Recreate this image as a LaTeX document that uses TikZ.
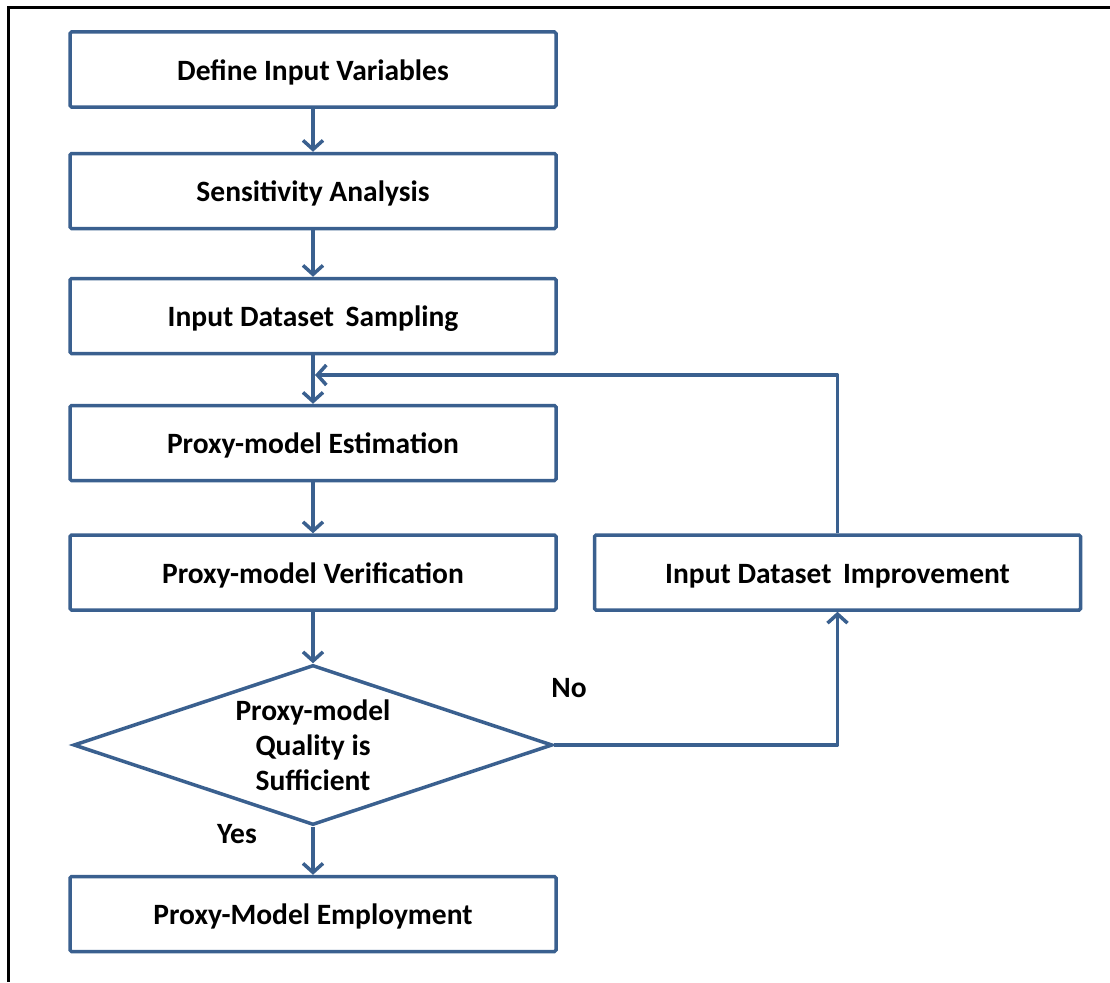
\documentclass[tikz,border=0pt]{standalone}
\usepackage{fontspec}
\setmainfont{Carlito}
\usetikzlibrary{shapes.geometric,arrows.meta}
\definecolor{flowblue}{RGB}{58,96,143}
\tikzset{
  stepbox/.style={draw=flowblue, line width=3.5pt, rounded corners=1.5pt,
    minimum width=486pt, minimum height=75pt, inner sep=0pt,
    text height=27pt, text depth=6pt,
    font=\fontsize{29.5}{35}\selectfont\bfseries, align=center},
  decision/.style={draw=flowblue, line width=3.5pt, diamond, aspect=3,
    minimum width=479pt, minimum height=160pt, inner sep=0pt,
    font=\fontsize{29.5}{35}\selectfont\bfseries, align=center},
  flow/.style={draw=flowblue, line width=3.5pt, line join=round,
    -{Straight Barb[length=9pt,width=20pt,line width=3.5pt]}},
  answer/.style={font=\fontsize{29.5}{35}\selectfont\bfseries}
}
\begin{document}
\begin{tikzpicture}[x=1pt,y=-1pt]
\useasboundingbox (0,0) rectangle (1110,982);
% cropped page frame
\draw[line width=3pt] (1110,8) -- (8,8) -- (8,982);

% main column
\node[stepbox] (define) at (313,69.5) {Define Input Variables};
\node[stepbox] (sens) at (313,191) {Sensitivity Analysis};
\node[stepbox] (samp) at (313,316) {Input Dataset\, Sampling};
\node[stepbox] (est) at (313,443) {Proxy-model Estimation};
\node[stepbox] (ver) at (313,572.5) {Proxy-model Verification};
\node[decision] (qual) at (313,745) {Proxy-model\\Quality is\\Sufficient};
\node[stepbox] (emp) at (313,914) {Proxy-Model Employment};

% side branch
\node[stepbox] (impr) at (837.5,572.5) {Input Dataset\, Improvement};

\coordinate (loopin) at (315,375);

\draw[flow] (define) -- (sens);
\draw[flow] (sens) -- (samp);
\draw[flow] (samp) -- (est);
\draw[flow] (est) -- (ver);
\draw[flow] (ver) -- (qual);
\draw[flow] (qual) -- (emp);
\draw[flow] (qual.east) -| (impr.south);
\draw[flow] (impr.north) |- (loopin);

\node[answer] (no) at (569,688) {No};
\node[answer] (yes) at (237,834) {Yes};
\end{tikzpicture}
\end{document}
